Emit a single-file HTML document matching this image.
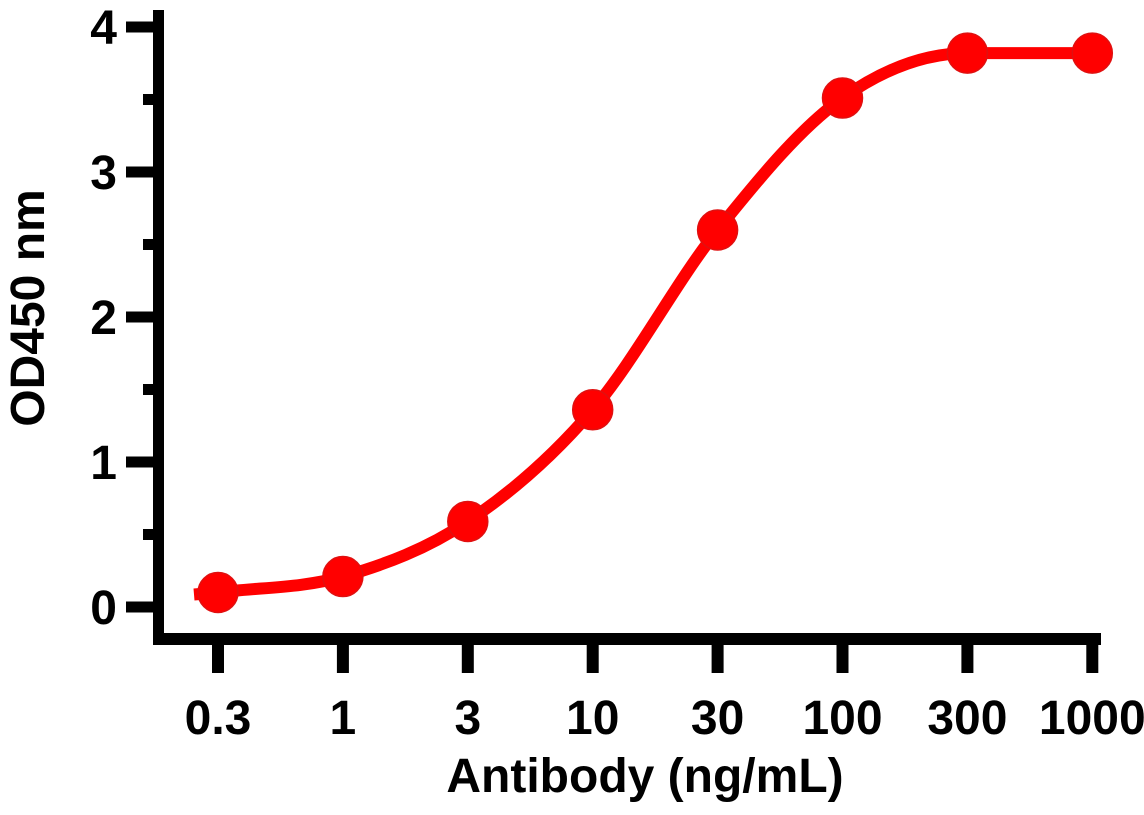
<!DOCTYPE html>
<html><head><meta charset="utf-8"><style>
body{margin:0;background:#fff}
svg text{font-family:"Liberation Sans",Arial,sans-serif;font-weight:bold;fill:#000}
</style></head><body>
<svg id="chart" width="1144" height="810" viewBox="0 0 1144 810" xmlns="http://www.w3.org/2000/svg">
<g id="axes"></g>
<g id="series"></g>
<text x="645" y="792" font-size="48" text-anchor="middle">Antibody (ng/mL)</text>
<text transform="translate(44,308) rotate(-90)" font-size="48" text-anchor="middle">OD450 nm</text>
</svg>
<script>
const categories = ["0.3","1","3","10","30","100","300","1000"];
const odValues = [0.10, 0.21, 0.59, 1.36, 2.60, 3.51, 3.82, 3.82];
const yTicks = [0,1,2,3,4];
const yMinorTicks = [0.5,1.5,2.5,3.5];

const NS="http://www.w3.org/2000/svg";
const xPos = i => 218 + i*124.9;
const yPos = v => 607 - v*145;
const axes=document.getElementById('axes'), series=document.getElementById('series');
function mk(tag,attrs,parent){const e=document.createElementNS(NS,tag);for(const k in attrs)e.setAttribute(k,attrs[k]);parent.appendChild(e);return e;}

let e;
e=mk('rect',{x:153,y:10,width:11,height:623,fill:'#000'},axes);


e=mk('rect',{x:153,y:633,width:948,height:12,fill:'#000'},axes);



yTicks.forEach(v=>{
  const y=yPos(v);
  e=mk('rect',{x:126,y:y-5.5,width:28,height:11,fill:'#000'},axes);
  
  
  e=mk('text',{x:117,y:y+17,'font-size':48,'text-anchor':'end'},axes);
  e.textContent=v;
  
  
});
yMinorTicks.forEach(v=>{
  const y=yPos(v);
  e=mk('rect',{x:143,y:y-5.5,width:11,height:11,fill:'#000'},axes);
  
  
});
categories.forEach((c,i)=>{
  const x=xPos(i);
  e=mk('rect',{x:x-6,y:644,width:12,height:29,fill:'#000'},axes);
  
  
  e=mk('text',{x:x,y:734,'font-size':48,'text-anchor':'middle'},axes);
  e.textContent=c;
  
  
});

// monotone cubic through points
const pts=odValues.map((v,i)=>[xPos(i),yPos(v)]);
const n=pts.length, dx=[], sl=[], m=[];
for(let i=0;i<n-1;i++){dx[i]=pts[i+1][0]-pts[i][0];sl[i]=(pts[i+1][1]-pts[i][1])/dx[i];}
m[0]=sl[0];m[n-1]=sl[n-2];
for(let i=1;i<n-1;i++){m[i]=(sl[i-1]*sl[i]<=0)?0:(sl[i-1]+sl[i])/2;}
for(let i=0;i<n-1;i++){
  if(sl[i]===0){m[i]=0;m[i+1]=0;continue;}
  const a=m[i]/sl[i],b=m[i+1]/sl[i],s=a*a+b*b;
  if(s>9){const t=3/Math.sqrt(s);m[i]=t*a*sl[i];m[i+1]=t*b*sl[i];}
}
let d=`M${pts[0][0]-24},${pts[0][1]+2} L${pts[0][0]},${pts[0][1]}`;
for(let i=0;i<n-1;i++){
  const h=dx[i]/3;
  d+=` C${pts[i][0]+h},${pts[i][1]+m[i]*h} ${pts[i+1][0]-h},${pts[i+1][1]-m[i+1]*h} ${pts[i+1][0]},${pts[i+1][1]}`;
}
e=mk('path',{d:d,fill:'none',stroke:'#ff0000','stroke-width':12,'stroke-linejoin':'round'},series);


pts.forEach(p=>{
  e=mk('circle',{cx:p[0],cy:p[1],r:20,fill:'#ff0000',stroke:'#e01010','stroke-width':1.5},series);
  
  
});
</script>
</body></html>
